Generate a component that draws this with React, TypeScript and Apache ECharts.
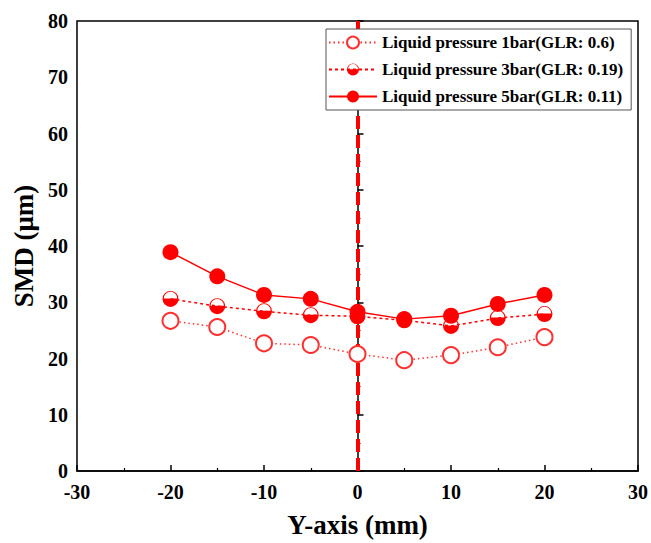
import React, { useEffect, useRef } from "react";
import * as echarts from "echarts";

const positions = [-20, -15, -10, -5, 0, 5, 10, 15, 20];
const smd1bar = [26.7, 25.6, 22.7, 22.4, 20.8, 19.7, 20.6, 22.0, 23.8];
const smd3bar = [30.6, 29.3, 28.4, 27.7, 27.5, 26.8, 25.8, 27.2, 27.9];
const smd5bar = [38.9, 34.6, 31.3, 30.6, 28.3, 27.0, 27.6, 29.7, 31.3];
const seriesNames = [
  "Liquid pressure 1bar(GLR: 0.6)",
  "Liquid pressure 3bar(GLR: 0.19)",
  "Liquid pressure 5bar(GLR: 0.11)",
];

const RED = "#ff0000";
const FONT = "'Liberation Serif', 'Times New Roman', serif";

// circle outline with the lower half filled
const HALF_FILLED =
  "path://M-10,0A10,10,0,1,1,10,0A10,10,0,1,1,-10,0ZM-8.4,-0.6L8.4,-0.6A8.4,8.4,0,0,0,-8.4,-0.6Z";

const pairs = (ys: number[]) => positions.map((x, i) => [x, ys[i]]);

export default function App() {
  const ref = useRef<HTMLDivElement>(null);

  useEffect(() => {
    if (!ref.current) return;
    const chart = echarts.init(ref.current, undefined, { renderer: "svg" });
    const axisCommon = {
      axisLine: { lineStyle: { color: "#000", width: 1.5 } },
      axisTick: { inside: true, length: 6, lineStyle: { color: "#000", width: 1.5 } },
      minorTick: { show: true, splitNumber: 2, length: 3, lineStyle: { color: "#000", width: 1.2 } },
      splitLine: { show: false },
      axisLabel: { color: "#000", fontFamily: FONT, fontWeight: "bold", fontSize: 20 },
      nameTextStyle: { color: "#000", fontFamily: FONT, fontWeight: "bold", fontSize: 27 },
    };
    chart.setOption({
      animation: false,
      backgroundColor: "#fff",
      grid: {
        left: 77,
        right: 13,
        top: 21,
        bottom: 72,
        outerBoundsMode: "none",
        containLabel: false,
        show: true,
        borderColor: "#000",
        borderWidth: 1.5,
      },
      xAxis: {
        type: "value",
        min: -30,
        max: 30,
        interval: 10,
        name: "Y-axis (mm)",
        nameLocation: "middle",
        nameGap: 40,
        ...axisCommon,
        axisLabel: { ...axisCommon.axisLabel, margin: 11 },
      },
      yAxis: {
        type: "value",
        min: 0,
        max: 80,
        interval: 10,
        name: "SMD (μm)",
        nameLocation: "middle",
        nameGap: 40,
        ...axisCommon,
        axisLabel: { ...axisCommon.axisLabel, margin: 9 },
      },
      legend: {
        left: 326,
        top: 29,
        orient: "vertical",
        backgroundColor: "#fff",
        borderColor: "#555",
        borderWidth: 1,
        borderRadius: 0,
        padding: [5, 8, 5, 2],
        itemGap: 10,
        itemWidth: 48,
        itemHeight: 15,
        textStyle: { color: "#000", fontFamily: FONT, fontWeight: "bold", fontSize: 17 },
        data: seriesNames,
      },
      series: [
        {
          name: seriesNames[0],
          type: "line",
          data: pairs(smd1bar),
          symbol: "emptyCircle",
          symbolSize: 16,
          itemStyle: { color: "#ff3030", borderColor: "#ff3030", borderWidth: 1.5 },
          lineStyle: { color: "#ff3030", width: 1.5, type: [1.5, 3] },
          z: 2,
        },
        {
          name: seriesNames[1],
          type: "line",
          data: pairs(smd3bar),
          symbol: HALF_FILLED,
          symbolSize: 16,
          itemStyle: { color: RED },
          lineStyle: { color: RED, width: 1.5, type: [3, 3] },
          z: 3,
        },
        {
          name: seriesNames[2],
          type: "line",
          data: pairs(smd5bar),
          symbol: "circle",
          symbolSize: 16,
          itemStyle: { color: RED },
          lineStyle: { color: RED, width: 1.5, type: "solid" },
          z: 4,
          markLine: {
            silent: true,
            symbol: "none",
            label: { show: false },
            lineStyle: { color: RED, width: 4, type: [13, 6] },
            data: [{ xAxis: 0 }],
            z: 1,
          },
        },
      ],
    });
    return () => chart.dispose();
  }, []);

  return (
    <div
      ref={ref}
      style={{ position: "absolute", left: 0, top: 0, width: 651, height: 543 }}
    />
  );
}
